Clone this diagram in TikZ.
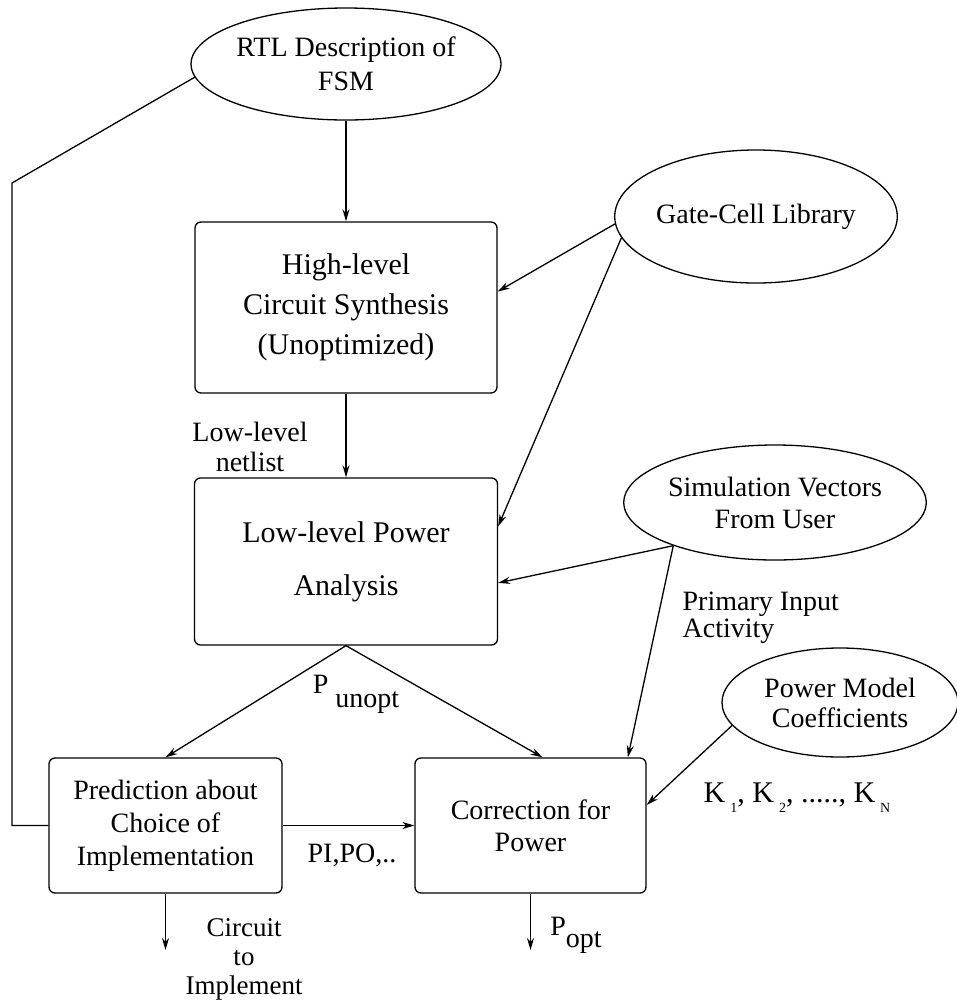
\documentclass[tikz,border=0pt]{standalone}
\usepackage{fontspec}
\setmainfont{Liberation Serif}
\usetikzlibrary{positioning, shapes.geometric, arrows.meta}

\begin{document}
\begin{tikzpicture}[x=0.5pt, y=-0.5pt, line width=0.65pt,
    >={Stealth[length=6pt,width=3.5pt]},
    box/.style={draw, rounded corners=3pt, align=center, inner sep=0pt},
    blob/.style={draw, ellipse, align=center, inner sep=0pt},
    lbl/.style={align=center, inner sep=0pt}]
      \useasboundingbox (0,0) rectangle (957,1002);

      \node[blob, minimum width=133pt, minimum height=56pt, font=\fontsize{14}{17}\selectfont] (RTL) at (346,64) {RTL Description of\\FSM};
      \node[box, minimum width=151pt, minimum height=85.5pt, font=\fontsize{15}{20}\selectfont] (HLS) at (346,307.5) {High-level\\Circuit Synthesis\\(Unoptimized)};
      \node[box, minimum width=151.5pt, minimum height=83.5pt, font=\fontsize{15}{26.5}\selectfont] (LPA) at (346,561.5) {Low-level Power\\Analysis};

      \node[blob, minimum width=134pt, minimum height=66.5pt, font=\fontsize{14}{17}\selectfont] (GCL) at (756,216.5) {Gate-Cell Library};
      \node[blob, minimum width=137pt, minimum height=57.5pt, font=\fontsize{14}{16}\selectfont] (SIM) at (775,502.5) {Simulation Vectors\\From User};
      \node[blob, minimum width=118pt, minimum height=54.5pt, font=\fontsize{14}{15}\selectfont] (PMC) at (840,702.5) {Power Model\\Coefficients};

      \node[box, minimum width=116.5pt, minimum height=67.5pt, font=\fontsize{14}{16.5}\selectfont] (PRED) at (165.5,825.5) {Prediction about\\Choice of\\Implementation};
      \node[box, minimum width=115.5pt, minimum height=67.5pt, font=\fontsize{14}{16}\selectfont] (CORR) at (530.5,825.5) {Correction for\\Power};

      \node[lbl, font=\fontsize{14}{15}\selectfont] (NET) at (250,447) {Low-level\\netlist};
      \node[lbl, font=\fontsize{14}{15}\selectfont] (PUN) at (356,694) {P \raisebox{-7pt}{unopt}};
      \node[lbl, align=left, anchor=west, font=\fontsize{14}{13.5}\selectfont] (PIA) at (682,618) {Primary Input\\Activity};
      \node[lbl, font=\fontsize{15}{16}\selectfont] (KS) at (797,798) {K\,\raisebox{-5pt}{\scriptsize 1}, K\,\raisebox{-5pt}{\scriptsize 2}, ....., K\,\raisebox{-5pt}{\scriptsize N}};
      \node[lbl, font=\fontsize{14}{15}\selectfont] (PIPO) at (352,855) {PI,PO,..};
      \node[lbl, font=\fontsize{13.5}{14.5}\selectfont] (CTI) at (244,959) {Circuit\\to\\Implement};
      \node[lbl, font=\fontsize{14}{15}\selectfont] (POPT) at (576,935) {P\raisebox{-6pt}{opt}};

      \coordinate (FB) at (12,183);
      \coordinate (OUT1) at (165.5,950);
      \coordinate (OUT2) at (530.5,950);

      \draw[->] (node cs:name=RTL) -- (node cs:name=HLS);
      \draw[->] (node cs:name=HLS) -- (node cs:name=LPA);
      \draw[->] (node cs:name=GCL, angle=183) -- (node cs:name=HLS, angle=6);
      \draw[->] (node cs:name=GCL, angle=189) -- (node cs:name=LPA, angle=13);
      \draw[->] (node cs:name=SIM, angle=203) -- (node cs:name=LPA, angle=-8);
      \draw[->] (node cs:name=SIM, angle=203) -- (node cs:name=CORR, angle=35);
      \draw[->] (node cs:name=LPA, anchor=south) -- (node cs:name=PRED, anchor=north);
      \draw[->] (node cs:name=LPA, anchor=south) -- (node cs:name=CORR, angle=80);
      \draw[->] (node cs:name=PMC, angle=192) -- (node cs:name=CORR, angle=10);
      \draw[->] (node cs:name=PRED) -- (node cs:name=CORR);
      \draw (node cs:name=RTL, angle=185) -- (FB) |- (node cs:name=PRED, anchor=west);
      \draw[->] (node cs:name=PRED, anchor=south) -- (OUT1);
      \draw[->] (node cs:name=CORR, anchor=south) -- (OUT2);
    \end{tikzpicture}
\end{document}
